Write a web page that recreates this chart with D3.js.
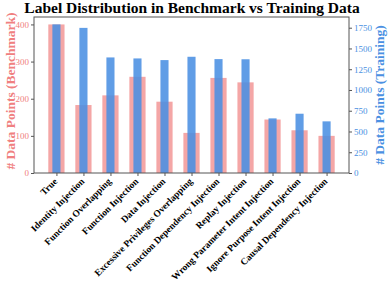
<!DOCTYPE html>
<html>
<head>
<meta charset="utf-8">
<script src="https://cdn.jsdelivr.net/npm/d3@7/dist/d3.min.js"></script>
<style>
  body { margin: 0; background: #fff; }
  text { font-family: "Liberation Serif", "Times New Roman", serif; }
</style>
</head>
<body>
<script>
var categories = ["True", "Identity Injection", "Function Overlapping", "Function Injection",
  "Data Injection", "Excessive Privileges Overlapping", "Function Dependency Injection",
  "Replay Injection", "Wrong Parameter Intent Injection", "Ignore Purpose Intent Injection",
  "Causal Dependency Injection"];
var benchmark = [400, 183, 209, 259, 192, 108, 256, 244, 144, 115, 100];
var training = [1790, 1748, 1392, 1380, 1360, 1400, 1372, 1370, 658, 714, 622];
var leftTicks = [0, 100, 200, 300, 400];
var rightTicks = [0, 250, 500, 750, 1000, 1250, 1500, 1750];

var W = 389, H = 284;
var plotLeft = 34, plotRight = 349, plotTop = 17, plotBottom = 173;
var pink = "#f08080", blue = "#4a90e2";

var svg = d3.select("body").append("svg").attr("width", W).attr("height", H);

var x = d3.scaleLinear().domain([-0.83, categories.length - 1 + 0.83]).range([plotLeft, plotRight]);
var yL = d3.scaleLinear().domain([0, 420]).range([plotBottom, plotTop]);
var yR = d3.scaleLinear().domain([0, 1879]).range([plotBottom, plotTop]);

svg.append("g").selectAll("rect").data(benchmark).enter().append("rect")
  .attr("x", function(d, i) { return x(i - 0.3); })
  .attr("width", x(0.6) - x(0))
  .attr("y", function(d) { return yL(d); })
  .attr("height", function(d) { return plotBottom - yL(d); })
  .attr("fill", pink).attr("fill-opacity", 0.7);

svg.append("g").selectAll("rect").data(training).enter().append("rect")
  .attr("x", function(d, i) { return x(i - 0.15); })
  .attr("width", x(0.3) - x(0))
  .attr("y", function(d) { return yR(d); })
  .attr("height", function(d) { return plotBottom - yR(d); })
  .attr("fill", blue).attr("fill-opacity", 0.88);

// frame
svg.append("rect").attr("x", plotLeft).attr("y", plotTop)
  .attr("width", plotRight - plotLeft).attr("height", plotBottom - plotTop)
  .attr("fill", "none").attr("stroke", "#555").attr("stroke-width", 1);

var gl = svg.append("g").attr("transform", "translate(" + plotLeft + ",0)")
  .call(d3.axisLeft(yL).tickValues(leftTicks).tickSize(3).tickPadding(2));
gl.select(".domain").remove();
gl.selectAll("line").attr("stroke", "#555");
gl.selectAll("text").attr("fill", pink).style("font-size", "9px").style("font-family", "Liberation Serif");

var gr = svg.append("g").attr("transform", "translate(" + plotRight + ",0)")
  .call(d3.axisRight(yR).tickValues(rightTicks).tickSize(3).tickPadding(2).tickFormat(d3.format("d")));
gr.select(".domain").remove();
gr.selectAll("line").attr("stroke", "#555");
gr.selectAll("text").attr("fill", blue).style("font-size", "9px").style("font-family", "Liberation Serif");

var gx = svg.append("g").attr("transform", "translate(0," + plotBottom + ")")
  .call(d3.axisBottom(x).tickValues(d3.range(categories.length)).tickSize(3)
    .tickFormat(function(i) { return categories[i]; }));
gx.select(".domain").remove();
gx.selectAll("line").attr("stroke", "#555");
gx.selectAll("text")
  .attr("text-anchor", "end")
  .attr("fill", "#000")
  .style("font-size", "9.5px").style("font-weight", "bold").style("font-family", "Liberation Serif")
  .attr("dy", null).attr("y", 0)
  .attr("transform", "translate(1,9) rotate(-45)");

svg.append("text").attr("x", 192).attr("y", 13).attr("text-anchor", "middle")
  .style("font-size", "15.5px").style("font-weight", "bold").text("Label Distribution in Benchmark vs Training Data");

svg.append("text").attr("transform", "translate(15,91) rotate(-90)")
  .attr("text-anchor", "middle").attr("fill", pink)
  .style("font-size", "13.5px").style("font-weight", "bold").text("# Data Points (Benchmark)");

svg.append("text").attr("transform", "translate(384,95) rotate(-90)")
  .attr("text-anchor", "middle").attr("fill", blue)
  .style("font-size", "13.5px").style("font-weight", "bold").text("# Data Points (Training)");
</script>
</body>
</html>
